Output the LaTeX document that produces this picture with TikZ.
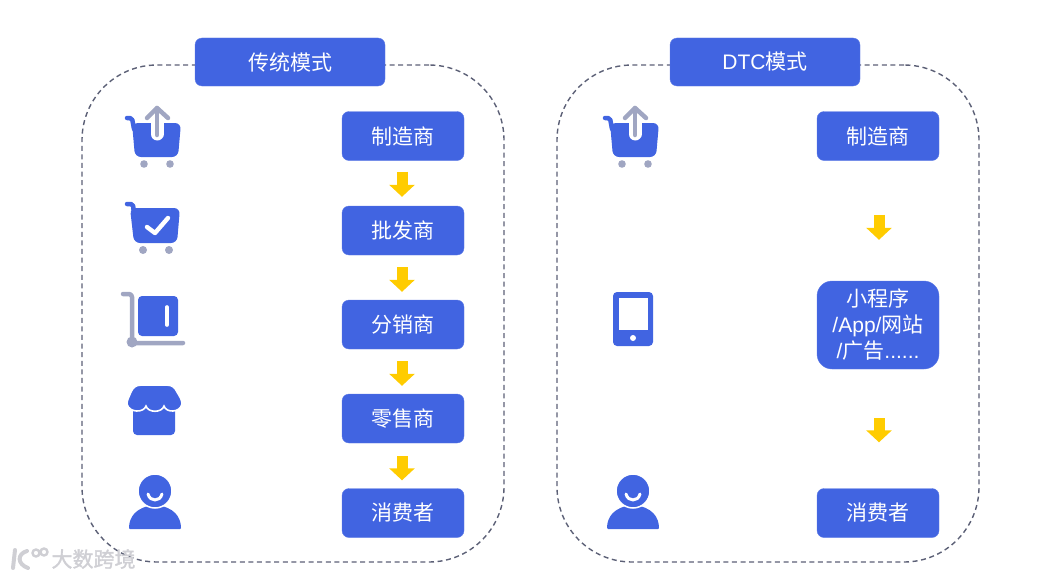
\documentclass[tikz,border=0pt]{standalone}
\usepackage{fontspec}
\setmainfont{Liberation Sans}
\newfontfamily\cjk{Noto Sans CJK SC}
\newfontfamily\markfont[FakeBold=1.5]{Noto Sans CJK SC}
\usetikzlibrary{arrows.meta, positioning}
\definecolor{TileBlue}{HTML}{4164E1}
\definecolor{TileGray}{HTML}{A0A6C2}
\definecolor{TileGold}{HTML}{FFCC00}
\definecolor{TileDash}{HTML}{5C6076}
\definecolor{TileMark}{HTML}{CFCFD4}
\tikzset{
    % Boxes with soft corners
    stage box/.style={
        rectangle,
        draw=TileBlue!85!white,
        fill=TileBlue,
        rounded corners=7pt,
        minimum width=122pt,
        minimum height=49pt,
        align=center,
        inner sep=0pt,
        text=white,
        font=\fontsize{21}{26}\selectfont\cjk
    },
    title box/.style={
        stage box,
        minimum width=190pt,
        minimum height=48pt
    },
    channel box/.style={
        stage box,
        rounded corners=15pt,
        minimum height=88pt
    },
    dash frame/.style={
        rectangle,
        draw=TileDash,
        line width=1.4pt,
        dash pattern=on 5pt off 3.6pt,
        rounded corners=75pt,
        minimum width=422pt,
        minimum height=497pt,
        inner sep=0pt
    },
    flow arrow/.style={
        -{Triangle[length=12pt,width=25pt]},
        line width=11pt,
        TileGold
    },
    % Icons
    gray stroke/.style={draw=TileGray, line width=4.5pt, line cap=round, line join=round},
    blue stroke/.style={draw=TileBlue, line width=4.5pt, line cap=round, line join=round},
    white stroke/.style={draw=white, line width=4.4pt, line cap=round, line join=round},
    cart up/.pic={
        \draw[blue stroke] (3,13) -- (6,13) [rounded corners=2pt] -- (8,13) -- (10,24);
        \fill[TileBlue, rounded corners=6pt] (8,18) -- (57,18) -- (54,52) -- (11,52) -- cycle;
        \draw[white stroke, line width=13pt] (33,18) -- (33,29);
        \draw[gray stroke] (33,30) -- (33,3);
        \draw[gray stroke] (23,13) -- (33,3) -- (44,13);
        \fill[TileGray] (20,59) circle (3.8) (46,59) circle (3.8);
    },
    cart check/.pic={
        \draw[blue stroke] (3,13) -- (7,13) [rounded corners=2pt] -- (9,13) -- (10,24);
        \fill[TileBlue, rounded corners=6pt] (6,17) -- (56,17) -- (53,52) -- (10,52) -- cycle;
        \draw[white stroke] (23,36) -- (31,42) -- (44,27);
        \fill[TileGray] (19,59) circle (4) (45,59) circle (4);
    },
    person/.pic={
        \fill[TileBlue, rounded corners=1pt] (0,55) .. controls (0,43) and (7,33) .. (26,31) .. controls (45,33) and (52,43) .. (52,55) -- cycle;
        \fill[TileBlue, draw=white, line width=1.5pt] (26,17) circle (17);
        \draw[white stroke, line width=3pt] (19,20) .. controls (21,28) and (31,28) .. (33,20);
    }
}

\begin{document}
\begin{tikzpicture}[x=1pt, y=-1pt]
        \useasboundingbox (0,0) rectangle (1057,578);

        % Dashed frames
        \node[dash frame] (oldframe) at (293,313.5) {};
        \node[dash frame] (dtcframe) at (768,313.5) {};

        % Titles
        \node[title box] (oldtitle) at (290,62) {传统模式};
        \node[title box] (dtctitle) at (765,62) {{\rmfamily DTC}模式};

        % Traditional chain
        \node[stage box] (maker) at (403,136) {制造商};
        \node[stage box] (wholesaler) at (403,230.5) {批发商};
        \node[stage box] (distributor) at (403,324.5) {分销商};
        \node[stage box] (retailer) at (403,418.5) {零售商};
        \node[stage box] (consumer) at (403,513) {消费者};

        % DTC chain
        \node[stage box] (dtcmaker) at (878,136) {制造商};
        \node[channel box] (channel) at (878,325) {小程序\\{\rmfamily /App/}网站\\{\rmfamily /}广告{\rmfamily ......}};
        \node[stage box] (dtcconsumer) at (878,513) {消费者};

        % Arrows
        \draw[flow arrow, shorten <=11pt, shorten >=9pt] ([xshift=-1pt]maker.south) -- ([xshift=-1pt]wholesaler.north);
        \draw[flow arrow, shorten <=12pt, shorten >=8pt] ([xshift=-1pt]wholesaler.south) -- ([xshift=-1pt]distributor.north);
        \draw[flow arrow, shorten <=12pt, shorten >=8pt] ([xshift=-1pt]distributor.south) -- ([xshift=-1pt]retailer.north);
        \draw[flow arrow, shorten <=13pt, shorten >=8pt] ([xshift=-1pt]retailer.south) -- ([xshift=-1pt]consumer.north);
        \draw[flow arrow, shorten <=54pt, shorten >=41pt] ([xshift=1pt]dtcmaker.south) -- ([xshift=1pt]channel.north);
        \draw[flow arrow, shorten <=49pt, shorten >=46pt] ([xshift=1pt]channel.south) -- ([xshift=1pt]dtcconsumer.north);

        % Left icons
        \pic at (124,105) {cart up};
        \pic at (124,191) {cart check};
        \pic at (602,105) {cart up};
        \pic at (129,474) {person};
        \pic at (607,474) {person};

        % Trolley
        \draw[gray stroke] (123,294) -- (127,294) [rounded corners=3pt] -- (132,294) -- (132,343) -- (183,343);
        \fill[TileGray] (132,342) circle (5.5);
        \fill[TileBlue, rounded corners=4pt] (138,296) rectangle (178,336);
        \draw[white stroke, line width=3.6pt] (167,307) -- (167,325);

        % Store
        \fill[TileBlue, rounded corners=4pt] (133,405) rectangle (175,435);
        \fill[TileBlue, draw=white, line width=1.6pt] (142,385) -- (166,385)
            .. controls (173,385) and (175,388) .. (177,392)
            .. controls (180,397) and (182,400) .. (182,404)
            .. controls (180,413) and (166,413) .. (164,406)
            .. controls (162,413) and (148,413) .. (146,406)
            .. controls (144,413) and (129,413) .. (127,404)
            .. controls (127,400) and (129,397) .. (131,392)
            .. controls (133,388) and (135,385) .. (142,385) -- cycle;

        % Phone
        \fill[TileBlue, rounded corners=4pt] (613,292) rectangle (653,346);
        \fill[white] (619,298) rectangle (648,330);
        \fill[white] (633,338) circle (3);

        % Watermark
        \draw[TileMark, line width=4pt, line cap=round] (15,550) -- (13,568);
        \draw[TileMark, line width=4pt, line cap=round] (27,551) .. controls (17,554) and (17,564) .. (28,568);
        \draw[TileMark, line width=2.4pt] (36,553) circle (3.5) (44,552) circle (3.5);
        \node[text=TileMark, inner sep=0pt, font=\fontsize{21}{21}\selectfont\markfont] (watermark) at (93.5,559) {大数跨境};
    \end{tikzpicture}
\end{document}
